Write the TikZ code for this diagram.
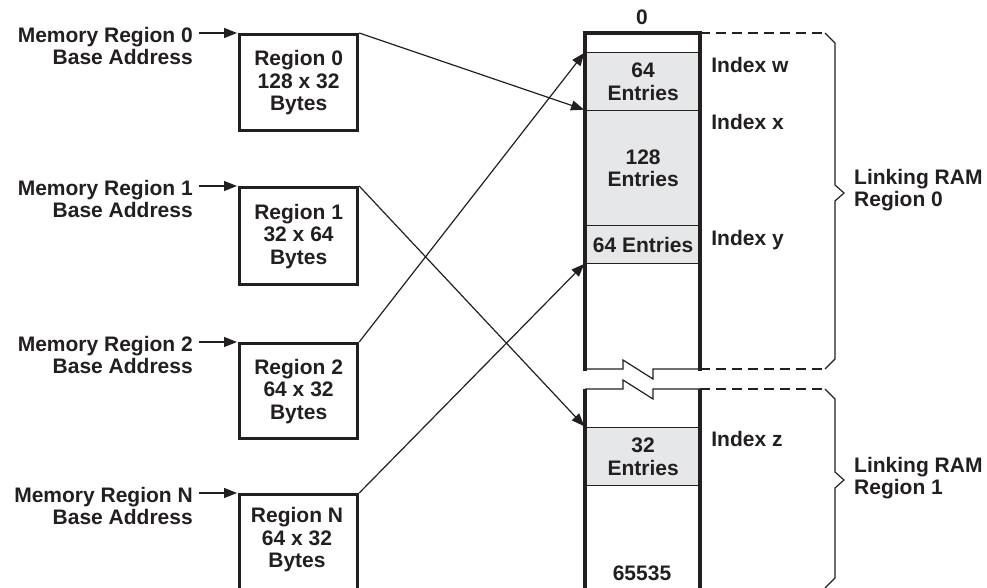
\documentclass[tikz,border=0pt]{standalone}
\usepackage{fontspec}
\setmainfont{Liberation Sans}
\usetikzlibrary{arrows.meta}
\definecolor{ink}{HTML}{231F20}
\definecolor{cell}{HTML}{E6E7E8}
\tikzset{
  txt/.style={text=ink,font=\fontsize{21}{22.5}\selectfont\bfseries,inner sep=0pt},
  lbl/.style={txt,align=right},
  regbox/.style={draw=ink,line width=3.2pt,minimum width=118pt,anchor=north west,txt,align=center},
  row/.style={draw=ink,fill=cell,line width=1.2pt,minimum width=115pt,anchor=north west,txt,align=center},
  arr/.style={draw=ink,line width=1.2pt,-{Triangle[length=13pt,width=10pt]},shorten >=1pt},
  col/.style={draw=ink,line width=3.2pt},
  thin/.style={draw=ink,line width=1.2pt},
  dashline/.style={draw=ink,line width=1.2pt,dash pattern=on 10pt off 6pt},
  brc/.style={draw=ink,line width=1.2pt,line join=miter}
}
\begin{document}
\begin{tikzpicture}[x=1pt,y=-1pt]
\useasboundingbox (0,0) rectangle (987,588);
\clip (0,0) rectangle (987,588);
% region boxes
\node[regbox,minimum height=96pt] (b0) at (238,33) {Region 0\\128 x 32\\Bytes};
\node[regbox,minimum height=97pt] (b1) at (238,186) {Region 1\\32 x 64\\Bytes};
\node[regbox,minimum height=95pt] (b2) at (238,342) {Region 2\\64 x 32\\Bytes};
\node[regbox,minimum height=112pt,text depth=0pt] (bn) at (238,493) {};
\node[txt,align=center] (bnt) at (297,540) {Region N\\64 x 32\\Bytes};
% left labels
\node[lbl,anchor=east] (m0) at (193,46) {Memory Region 0\\Base Address};
\node[lbl,anchor=east] (m1) at (193,199) {Memory Region 1\\Base Address};
\node[lbl,anchor=east] (m2) at (193,355) {Memory Region 2\\Base Address};
\node[lbl,anchor=east] (mn) at (193,506) {Memory Region N\\Base Address};
\foreach \m/\b in {m0/b0,m1/b1,m2/b2,mn/bn}
  \draw[arr] ([xshift=6pt]\m.east |- \b.north west) -- (\b.north west);
% memory rows
\node[row,minimum height=58pt] (rw) at (585,52) {64\\Entries};
\node[row,minimum height=115pt] (rx) at (585,110) {128\\Entries};
\node[row,minimum height=38pt] (ry) at (585,225) {64 Entries};
\node[row,minimum height=58pt] (rz) at (585,427) {32\\Entries};
\coordinate (tl) at (585,33);
\coordinate (tr) at (700,33);
% column outline
\draw[col,line cap=rect] (585,369) -- (tl) -- (tr) -- (700,369);
\draw[col] (585,389) -- (585,600);
\draw[col] (700,389) -- (700,600);
\draw[thin] (585,369) -- (623,369) -- (623,360) -- (653,379) -- (653,369) -- (700,369);
\draw[thin] (585,389) -- (623,389) -- (623,380) -- (653,399) -- (653,389) -- (700,389);
% top / bottom labels
\node[txt] (zero) at (642,17) {0};
\node[txt] (last) at (642,573) {65535};
% index labels
\node[txt,anchor=base west] (iw) at ([xshift=10pt,yshift=-21pt]rw.north east) {Index w};
\node[txt,anchor=base west] (ix) at ([xshift=10pt,yshift=-20pt]rx.north east) {Index x};
\node[txt,anchor=base west] (iy) at ([xshift=10pt,yshift=-20pt]ry.north east) {Index y};
\node[txt,anchor=base west] (iz) at ([xshift=10pt,yshift=-19pt]rz.north east) {Index z};
% crossing arrows
\draw[arr] (b0.north east) -- (rx.north west);
\draw[arr] (b1.north east) -- (rz.north west);
\draw[arr] (b2.north east) -- (rw.north west);
\draw[arr] (bn.north east) -- ([yshift=1pt]ry.south west);
% dashed extensions
\draw[dashline] (tr) -- (822,33);
\draw[dashline] (700,369) -- (822,369);
\draw[dashline] (700,389) -- (822,389);
% braces
\draw[brc] (825,33) -- (835,43) -- (835,185) -- (844,193) -- (835,201) -- (835,359) -- (825,369);
\draw[brc] (825,389) -- (835,399) -- (835,472) -- (844,480) -- (835,488) -- (835,578) -- (825,588);
\node[txt,anchor=west,align=left] (lr0) at (854,190) {Linking RAM\\Region 0};
\node[txt,anchor=west,align=left] (lr1) at (854,478) {Linking RAM\\Region 1};
\end{tikzpicture}
\end{document}
